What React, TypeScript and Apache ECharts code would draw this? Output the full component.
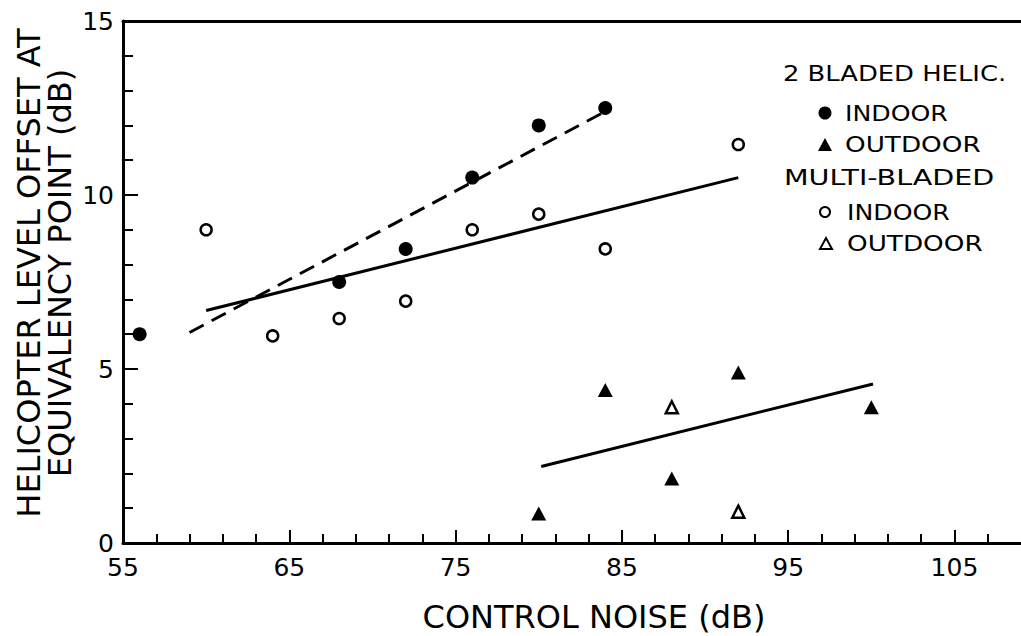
import React, { useEffect, useRef } from "react";
import * as echarts from "echarts";

// ---- data ----
const xMajorTicks = [55, 65, 75, 85, 95, 105];
const xMinorTicks = [57, 59, 61, 63, 67, 69, 71, 73, 77, 79, 81, 83, 87, 89, 91, 93, 97, 99, 101, 103, 107];
const yTickStep = 5;

const twoBladedIndoor = [[56, 6], [68, 7.5], [72, 8.45], [76, 10.5], [80, 12], [84, 12.5]];
const twoBladedOutdoor = [[80, 0.85], [84, 4.4], [88, 1.85], [92, 4.9], [100, 3.9]];
const multiBladedIndoor = [[60, 9], [64, 5.95], [68, 6.45], [72, 6.95], [76, 9], [80, 9.45], [84, 8.45], [92, 11.45]];
const multiBladedOutdoor = [[88, 3.9], [92, 0.9]];

const twoBladedIndoorFit = [[59, 6.05], [84, 12.4]];
const indoorFit = [[60, 6.68], [92, 10.5]];
const outdoorFit = [[80.15, 2.2], [100.1, 4.57]];

const xTitle = "CONTROL NOISE (dB)";
const yTitle = "HELICOPTER LEVEL OFFSET AT\nEQUIVALENCY POINT (dB)";
const legendHeader1 = "2 BLADED HELIC.";
const legendHeader2 = "MULTI-BLADED";
const legendIndoor = "INDOOR";
const legendOutdoor = "OUTDOOR";

const FONT = "DejaVu Sans";
const INK = "#000";

export default function App() {
  const ref = useRef<HTMLDivElement>(null);

  useEffect(() => {
    if (!ref.current) return;
    const chart = echarts.init(ref.current, undefined, { renderer: "svg" });

    const legendText = (text: string, x: number, y: number, sx: number) => ({
      type: "text",
      x,
      y,
      scaleX: sx,
      z: 10,
      style: {
        text,
        x: 0,
        y: 0,
        fill: INK,
        fontSize: 21,
        lineHeight: 22,
        fontFamily: FONT,
        align: "left",
        verticalAlign: "middle",
        textAlign: "left",
        textVerticalAlign: "middle",
      },
    });

    const option: any = {
      animation: false,
      backgroundColor: "#fff",
      grid: { left: 123, top: 21, right: 0, bottom: 93, containLabel: false },
      xAxis: [
        {
          type: "value",
          position: "bottom",
          min: 55,
          max: 109,
          axisLine: { show: true, onZero: false, lineStyle: { color: INK, width: 3 } },
          axisTick: { show: true, inside: true, length: 13, customValues: xMajorTicks, lineStyle: { color: INK, width: 2 } },
          axisLabel: { show: true, customValues: xMajorTicks, color: INK, fontSize: 25, lineHeight: 20, fontFamily: FONT, margin: 14 },
          splitLine: { show: false },
        },
        {
          type: "value",
          position: "bottom",
          min: 55,
          max: 109,
          axisLine: { show: false, onZero: false },
          axisTick: { show: true, inside: true, length: 9, customValues: xMinorTicks, lineStyle: { color: INK, width: 2 } },
          axisLabel: { show: false },
          splitLine: { show: false },
        },
        {
          type: "value",
          position: "top",
          min: 55,
          max: 109,
          axisLine: { show: true, onZero: false, lineStyle: { color: INK, width: 3 } },
          axisTick: { show: false },
          axisLabel: { show: false },
          splitLine: { show: false },
        },
      ],
      yAxis: {
        type: "value",
        min: 0,
        max: 15,
        interval: yTickStep,
        axisLine: { show: true, onZero: false, lineStyle: { color: INK, width: 3 } },
        axisTick: { show: true, inside: true, length: 15, lineStyle: { color: INK, width: 2 } },
        minorTick: { show: true, splitNumber: 5, length: 10, lineStyle: { color: INK, width: 2 } },
        axisLabel: { color: INK, fontSize: 25, lineHeight: 18, fontFamily: FONT, margin: 9 },
        splitLine: { show: false },
      },
      series: [
        {
          name: "fit 2-bladed indoor",
          type: "line",
          data: twoBladedIndoorFit,
          showSymbol: false,
          lineStyle: { color: INK, width: 3, type: [16, 9] },
          z: 2,
        },
        {
          name: "fit indoor",
          type: "line",
          data: indoorFit,
          showSymbol: false,
          lineStyle: { color: INK, width: 3 },
          z: 2,
        },
        {
          name: "fit outdoor",
          type: "line",
          data: outdoorFit,
          showSymbol: false,
          lineStyle: { color: INK, width: 3 },
          z: 2,
        },
        {
          name: "2 bladed indoor",
          type: "scatter",
          data: twoBladedIndoor,
          symbol: "circle",
          symbolSize: 14,
          itemStyle: { color: INK, opacity: 1 },
          z: 5,
        },
        {
          name: "2 bladed outdoor",
          type: "scatter",
          data: twoBladedOutdoor,
          symbol: "triangle",
          symbolSize: [15, 14],
          itemStyle: { color: INK, opacity: 1 },
          z: 5,
        },
        {
          name: "multi-bladed indoor",
          type: "scatter",
          data: multiBladedIndoor,
          symbol: "circle",
          symbolSize: 11,
          itemStyle: { color: "#fff", borderColor: INK, borderWidth: 2.5, opacity: 1 },
          z: 5,
        },
        {
          name: "multi-bladed outdoor",
          type: "scatter",
          data: multiBladedOutdoor,
          symbol: "triangle",
          symbolSize: [12, 12],
          itemStyle: { color: "#fff", borderColor: INK, borderWidth: 2.5, opacity: 1 },
          z: 5,
        },
      ],
      graphic: [
        {
          type: "text",
          x: 594,
          y: 617,
          style: {
            text: xTitle,
            fill: INK,
            fontSize: 32,
            lineHeight: 30,
            fontFamily: FONT,
            align: "center",
            verticalAlign: "middle",
            textAlign: "center",
            textVerticalAlign: "middle",
          },
        },
        {
          type: "text",
          x: 44,
          y: 273,
          rotation: Math.PI / 2,
          style: {
            text: yTitle,
            fill: INK,
            fontSize: 32,
            lineHeight: 31,
            fontFamily: FONT,
            align: "center",
            verticalAlign: "middle",
            textAlign: "center",
            textVerticalAlign: "middle",
          },
        },
        legendText(legendHeader1, 783, 74, 1.23),
        { type: "circle", x: 825, y: 113, shape: { cx: 0, cy: 0, r: 6.5 }, style: { fill: INK } },
        legendText(legendIndoor, 845, 113, 1.2),
        { type: "polygon", x: 825, y: 145, shape: { points: [[-7, 6], [7, 6], [0, -7]] }, style: { fill: INK } },
        legendText(legendOutdoor, 845, 145, 1.25),
        legendText(legendHeader2, 784, 178, 1.36),
        { type: "circle", x: 825, y: 212, shape: { cx: 0, cy: 0, r: 5 }, style: { fill: "#fff", stroke: INK, lineWidth: 2 } },
        legendText(legendIndoor, 847, 212, 1.2),
        { type: "polygon", x: 826, y: 244, shape: { points: [[-6, 5], [6, 5], [0, -6]] }, style: { fill: "#fff", stroke: INK, lineWidth: 2 } },
        legendText(legendOutdoor, 847, 244, 1.25),
      ],
    };

    chart.setOption(option);
    return () => chart.dispose();
  }, []);

  return (
    <div
      ref={ref}
      style={{ position: "fixed", left: 0, top: 0, width: 1021, height: 636, background: "#fff" }}
    />
  );
}
